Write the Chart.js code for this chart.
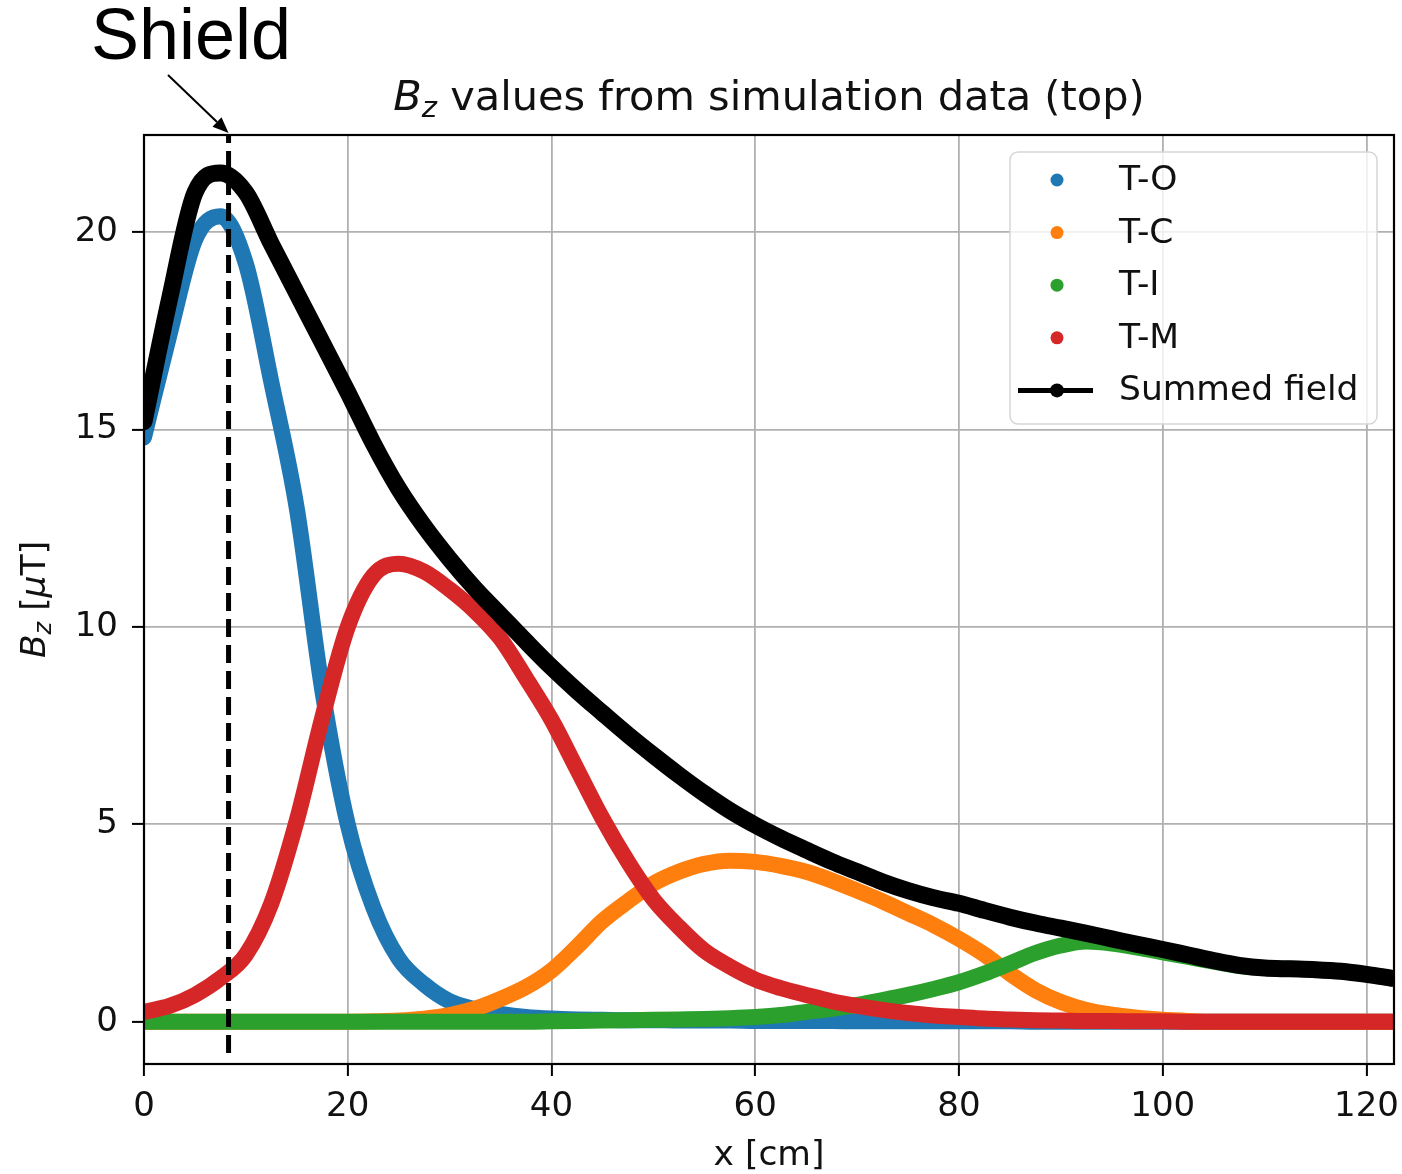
<!DOCTYPE html>
<html>
<head>
<meta charset="utf-8">
<script src="https://cdn.jsdelivr.net/npm/chart.js@4.4.1/dist/chart.umd.min.js"></script>
<style>
  html, body { margin: 0; padding: 0; background: #fff; }
  canvas { display: block; }
</style>
</head>
<body>
<canvas id="bz" width="1402" height="1174" style="width:1402px;height:1174px"></canvas>
<script>
// positions along the line, cm
var xCm = [0, 2.5, 5, 7.5, 10, 12.5, 15, 17.5, 20, 22.5, 25, 27.5, 30, 32.5, 35, 37.5, 40, 42.5, 45, 47.5,
  50, 52.5, 55, 57.5, 60, 62.5, 65, 67.5, 70, 72.5, 75, 77.5, 80, 82.5, 85, 87.5, 90, 92.5, 95, 97.5,
  100, 102.5, 105, 107.5, 110, 112.5, 115, 117.5, 120, 122.5];

// Bz in uT
var tO = [14.8, 17.4, 19.8, 20.4, 19.2, 16.2, 13.0, 8.4, 5.0, 2.9, 1.6, 0.95, 0.52, 0.32, 0.2, 0.12, 0.08, 0.06, 0.05, 0.04,
  0.04, 0.03, 0.03, 0.03, 0.02, 0.02, 0.02, 0.02, 0.01, 0.01, 0.01, 0.01, 0.01, 0.01, 0.01, 0, 0, 0, 0, 0,
  0, 0, 0, 0, 0, 0, 0, 0, 0, 0];
var tC = [0, 0, 0, 0, 0, 0, 0, 0, 0, 0.01, 0.03, 0.08, 0.17, 0.33, 0.58, 0.88, 1.3, 1.9, 2.55, 3.05,
  3.5, 3.8, 4.0, 4.08, 4.05, 3.95, 3.8, 3.58, 3.32, 3.05, 2.75, 2.45, 2.1, 1.7, 1.22, 0.8, 0.5, 0.3, 0.18, 0.1,
  0.05, 0.02, 0, 0, 0, 0, 0, 0, 0, 0];
var tI = [0, 0, 0, 0, 0, 0, 0, 0, 0, 0, 0, 0, 0, 0, 0, 0, 0.01, 0.02, 0.03, 0.04,
  0.05, 0.06, 0.07, 0.09, 0.12, 0.17, 0.25, 0.33, 0.43, 0.55, 0.68, 0.83, 1.0, 1.22, 1.48, 1.74, 1.93, 2.03, 1.98, 1.88,
  1.76, 1.64, 1.52, 1.41, 1.36, 1.34, 1.32, 1.28, 1.2, 1.1];
var tM = [0.25, 0.4, 0.68, 1.1, 1.7, 3.0, 5.1, 7.7, 10.0, 11.3, 11.6, 11.4, 10.95, 10.4, 9.7, 8.7, 7.65, 6.4, 5.15, 4.05,
  3.1, 2.4, 1.8, 1.4, 1.07, 0.85, 0.68, 0.52, 0.4, 0.3, 0.22, 0.16, 0.12, 0.08, 0.06, 0.04, 0.03, 0.02, 0.02, 0.01,
  0.01, 0, 0, 0, 0, 0, 0, 0, 0, 0];
var summed = [15.2, 18.3, 21.0, 21.5, 21.0, 19.7, 18.45, 17.2, 15.95, 14.65, 13.5, 12.55, 11.72, 10.97, 10.3, 9.63, 8.98, 8.38, 7.82, 7.27,
  6.75, 6.25, 5.78, 5.35, 4.98, 4.65, 4.35, 4.06, 3.8, 3.54, 3.32, 3.14, 3.0, 2.82, 2.65, 2.5, 2.37, 2.24, 2.1, 1.96,
  1.83, 1.69, 1.55, 1.43, 1.36, 1.34, 1.32, 1.28, 1.2, 1.1];

var seriesNames = ['T-O', 'T-C', 'T-I', 'T-M', 'Summed field'];
var seriesColours = ['#1f77b4', '#ff7f0e', '#2ca02c', '#d62728', '#000000'];

var xTicks = [0, 20, 40, 60, 80, 100, 120];
var yTicks = [0, 5, 10, 15, 20];
var xRange = [0, 122.7];
var yRange = [-1.07, 22.46];

// shield position and the bottom end of its dashed marker
var shieldX = 8.3;
var shieldBottom = -0.79;

var FONT = "'DejaVu Sans', sans-serif";

function pts(ys) {
  var out = [];
  for (var i = 0; i < xCm.length; i++) out.push({x: xCm[i], y: ys[i]});
  return out;
}

function curve(ys, idx, width) {
  return {
    label: seriesNames[idx],
    data: pts(ys),
    showLine: true,
    borderColor: seriesColours[idx],
    backgroundColor: seriesColours[idx],
    borderWidth: width,
    borderCapStyle: 'round',
    borderJoinStyle: 'round',
    cubicInterpolationMode: 'monotone',
    pointRadius: 0,
    clip: 0,
    order: 10 - idx   // first series at the bottom, like matplotlib
  };
}

// draw a string made of pieces with their own font / vertical shift
function drawPieces(ctx, x, y, pieces, align) {
  var total = 0;
  pieces.forEach(function(p) { ctx.font = p.font; total += ctx.measureText(p.t).width; });
  var cx = align === 'center' ? x - total / 2 : x;
  pieces.forEach(function(p) {
    ctx.font = p.font;
    ctx.fillText(p.t, cx, y + (p.dy || 0));
    cx += ctx.measureText(p.t).width;
  });
}

var decorations = {
  id: 'decorations',
  afterDatasetsDraw: function(chart) {
    var ctx = chart.ctx, a = chart.chartArea;
    ctx.save();
    // axes frame
    ctx.strokeStyle = '#000';
    ctx.lineWidth = 2.2;
    ctx.strokeRect(a.left, a.top, a.right - a.left, a.bottom - a.top);

    // legend box, matplotlib style
    var bw = 367, bh = 272;
    var bx = a.right - 17 - bw, by = a.top + 17;
    ctx.beginPath();
    ctx.roundRect(bx, by, bw, bh, 8);
    ctx.fillStyle = 'rgba(255,255,255,0.8)';
    ctx.fill();
    ctx.strokeStyle = '#d6d6d6';
    ctx.lineWidth = 1.5;
    ctx.stroke();

    ctx.textBaseline = 'middle';
    ctx.textAlign = 'left';
    for (var i = 0; i < seriesNames.length; i++) {
      var cy = by + 28 + i * 52.6;
      ctx.fillStyle = seriesColours[i];
      if (i === seriesNames.length - 1) {
        ctx.strokeStyle = seriesColours[i];
        ctx.lineWidth = 5;
        ctx.beginPath();
        ctx.moveTo(bx + 8, cy);
        ctx.lineTo(bx + 83, cy);
        ctx.stroke();
        ctx.beginPath();
        ctx.arc(bx + 47, cy, 7, 0, Math.PI * 2);
        ctx.fill();
      } else {
        ctx.beginPath();
        ctx.arc(bx + 47, cy, 6.5, 0, Math.PI * 2);
        ctx.fill();
      }
      ctx.fillStyle = '#111';
      ctx.font = '34.5px ' + FONT;
      ctx.fillText(seriesNames[i], bx + 109, cy + 1);
    }
    ctx.restore();
  },
  afterDraw: function(chart) {
    var ctx = chart.ctx, a = chart.chartArea;
    var xs = chart.scales.x, ys = chart.scales.y;
    ctx.save();
    ctx.fillStyle = '#111';
    ctx.textBaseline = 'alphabetic';
    ctx.textAlign = 'left';

    // title
    drawPieces(ctx, (a.left + a.right) / 2, 110, [
      {t: 'B', font: 'italic 41.5px ' + FONT},
      {t: 'z', font: 'italic 29px ' + FONT, dy: 7},
      {t: ' values from simulation data (top)', font: '41.5px ' + FONT}
    ], 'center');

    // x axis label
    ctx.textAlign = 'center';
    ctx.font = '34.5px ' + FONT;
    ctx.fillText('x [cm]', (a.left + a.right) / 2, 1165);

    // y axis label, rotated
    ctx.save();
    ctx.translate(45, (a.top + a.bottom) / 2);
    ctx.rotate(-Math.PI / 2);
    ctx.textAlign = 'left';
    drawPieces(ctx, 0, 0, [
      {t: 'B', font: 'italic 34.5px ' + FONT},
      {t: 'z', font: 'italic 24px ' + FONT, dy: 6},
      {t: ' [', font: '34.5px ' + FONT},
      {t: '\u03bc', font: 'italic 34.5px ' + FONT},
      {t: 'T]', font: '34.5px ' + FONT}
    ], 'center');
    ctx.restore();

    // "Shield" note and arrow to the dashed marker
    var tipX = xs.getPixelForValue(shieldX);
    var tipY = ys.getPixelForValue(yRange[1]) - 2;
    ctx.font = '72px "Liberation Sans", Arial, sans-serif';
    ctx.textAlign = 'left';
    ctx.fillStyle = '#000';
    ctx.fillText('Shield', 91, 59);

    var sx = 168, sy = 75;
    var ang = Math.atan2(tipY - sy, tipX - sx);
    var headLen = 16, headW = 6.5;
    var bxp = tipX - headLen * Math.cos(ang), byp = tipY - headLen * Math.sin(ang);
    ctx.strokeStyle = '#000';
    ctx.lineWidth = 2;
    ctx.beginPath();
    ctx.moveTo(sx, sy);
    ctx.lineTo(bxp, byp);
    ctx.stroke();
    ctx.beginPath();
    ctx.moveTo(tipX, tipY);
    ctx.lineTo(bxp + headW * Math.sin(ang), byp - headW * Math.cos(ang));
    ctx.lineTo(bxp - headW * Math.sin(ang), byp + headW * Math.cos(ang));
    ctx.closePath();
    ctx.fill();
    ctx.restore();
  }
};

var datasets = [
  curve(tO, 0, 16),
  curve(tC, 1, 16),
  curve(tI, 2, 16),
  curve(tM, 3, 16),
  curve(summed, 4, 17),
  {
    label: 'shield',
    data: [{x: shieldX, y: shieldBottom}, {x: shieldX, y: yRange[1]}],
    showLine: true,
    borderColor: '#000',
    borderWidth: 5,
    borderDash: [18, 8],
    pointRadius: 0,
    clip: false,
    order: 0
  }
];

var ctx = document.getElementById('bz').getContext('2d');
var bzChart = new Chart(ctx, {
  type: 'scatter',
  data: {datasets: datasets},
  options: {
    responsive: false,
    animation: false,
    devicePixelRatio: 1,
    layout: {padding: {left: 0, top: 135, right: 8, bottom: 0}},
    plugins: {
      legend: {display: false},
      title: {display: false},
      tooltip: {enabled: false}
    },
    scales: {
      x: {
        type: 'linear',
        min: xRange[0],
        max: xRange[1],
        afterFit: function(s) { s.height = 110; s.paddingLeft = 0; s.paddingRight = 0; },
        afterBuildTicks: function(s) { s.ticks = xTicks.map(function(v) { return {value: v}; }); },
        grid: {color: '#b0b0b0', lineWidth: 1.8, tickLength: 12, tickColor: '#000', tickWidth: 2},
        border: {display: false},
        ticks: {
          font: {family: 'DejaVu Sans', size: 34},
          color: '#111',
          padding: 11,
          maxRotation: 0,
          autoSkip: false
        }
      },
      y: {
        type: 'linear',
        min: yRange[0],
        max: yRange[1],
        afterFit: function(s) { s.width = 144; s.paddingTop = 0; s.paddingBottom = 0; },
        afterBuildTicks: function(s) { s.ticks = yTicks.map(function(v) { return {value: v}; }); },
        grid: {color: '#b0b0b0', lineWidth: 1.8, tickLength: 12, tickColor: '#000', tickWidth: 2},
        border: {display: false},
        ticks: {
          font: {family: 'DejaVu Sans', size: 34},
          color: '#111',
          padding: 14
        }
      }
    }
  },
  plugins: [decorations]
});
</script>
</body>
</html>
